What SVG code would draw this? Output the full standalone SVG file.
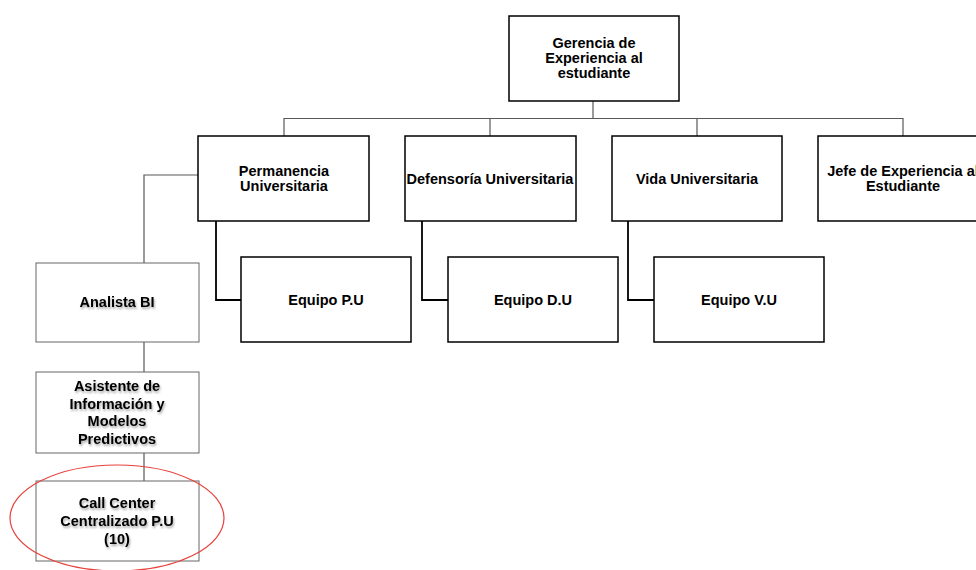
<svg xmlns="http://www.w3.org/2000/svg" width="976" height="570" viewBox="0 0 976 570">
  <defs>
    <filter id="soft" x="-10%" y="-30%" width="120%" height="160%">
      <feDropShadow dx="1" dy="2" stdDeviation="1.2" flood-color="#000" flood-opacity="0.35"/>
    </filter>
  </defs>
  <style>
    text { font-family: "Liberation Sans", Arial, sans-serif; font-size: 14.5px; font-weight: bold; fill: #000; text-anchor: middle; }
    .box { fill: #fff; stroke: #000; stroke-width: 1.5; }
    .gbox { fill: #fff; stroke: #666; stroke-width: 1; }
    .thin { fill: none; stroke: #595959; stroke-width: 1.2; }
    .thick { fill: none; stroke: #000; stroke-width: 1.8; }
    .shadow { filter: url(#soft); }
  </style>
  <rect width="976" height="570" fill="#fff"/>

  <g id="connectors">
    <path class="thin" d="M593 101 V118.5 M284 136 V118.5 H903 V136 M490 118.5 V136 M697 118.5 V136"/>
    <path class="thin" d="M198 175 H144 V263 M144 342 V372 M144 453 V481"/>
    <path class="thick" d="M216 221 V300 H241 M422 221 V300 H448 M628 221 V300 H654"/>
  </g>

  <g id="gerencia">
    <rect class="box" x="509" y="16" width="170" height="85"/>
    <text x="594" y="48">Gerencia de</text>
    <text x="594" y="63">Experiencia al</text>
    <text x="594" y="78">estudiante</text>
  </g>

  <g id="permanencia">
    <rect class="box" x="198" y="136" width="171" height="85"/>
    <text x="284" y="176">Permanencia</text>
    <text x="284" y="191">Universitaria</text>
  </g>

  <g id="defensoria">
    <rect class="box" x="405" y="136" width="171" height="85"/>
    <text x="490" y="184">Defensoría Universitaria</text>
  </g>

  <g id="vida">
    <rect class="box" x="612" y="136" width="170" height="85"/>
    <text x="697" y="184">Vida Universitaria</text>
  </g>

  <g id="jefe">
    <rect class="box" x="818" y="136" width="172" height="85"/>
    <text x="903" y="176">Jefe de Experiencia al</text>
    <text x="903" y="191">Estudiante</text>
  </g>

  <g id="equipo-pu">
    <rect class="box" x="241" y="257" width="170" height="85"/>
    <text x="326" y="305">Equipo P.U</text>
  </g>

  <g id="equipo-du">
    <rect class="box" x="448" y="257" width="170" height="85"/>
    <text x="533" y="305">Equipo D.U</text>
  </g>

  <g id="equipo-vu">
    <rect class="box" x="654" y="257" width="170" height="85"/>
    <text x="739" y="305">Equipo V.U</text>
  </g>

  <g id="analista">
    <rect class="gbox" x="36" y="263" width="163" height="79"/>
    <text class="shadow" x="117" y="307">Analista BI</text>
  </g>

  <g id="asistente">
    <rect class="gbox" x="36" y="372" width="163" height="81"/>
    <text class="shadow" x="117" y="391">Asistente de</text>
    <text class="shadow" x="117" y="409">Información y</text>
    <text class="shadow" x="117" y="426">Modelos</text>
    <text class="shadow" x="117" y="444">Predictivos</text>
  </g>

  <g id="call-center">
    <rect class="gbox" x="36" y="481" width="163" height="80"/>
    <text class="shadow" x="117" y="508">Call Center</text>
    <text class="shadow" x="117" y="526">Centralizado P.U</text>
    <text class="shadow" x="117" y="544">(10)</text>
  </g>

  <ellipse id="highlight" cx="117" cy="518" rx="107" ry="53" fill="none" stroke="#e8403a" stroke-width="1.2"/>
</svg>
